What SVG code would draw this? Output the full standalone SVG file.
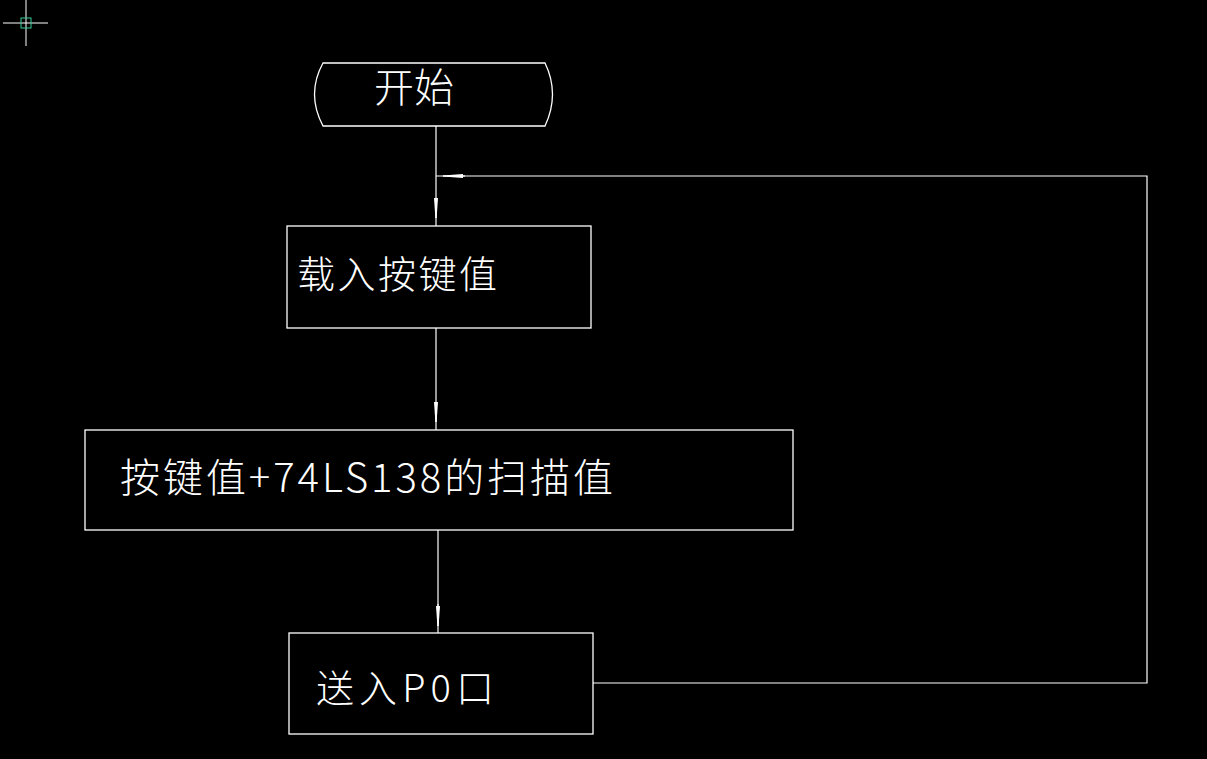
<svg xmlns="http://www.w3.org/2000/svg" width="1207" height="759" viewBox="0 0 1207 759">
<style>
.n{fill:none;stroke:#fff;stroke-width:1.3}
.t{fill:#fff;font-family:"Noto Sans CJK SC","Liberation Sans",sans-serif;font-weight:300}
.c{fill:none;stroke:#fff;stroke-width:1.2}
</style>
<defs>
<marker id="a" viewBox="0 0 20 6" refX="20" refY="3" markerWidth="20" markerHeight="6" markerUnits="userSpaceOnUse" orient="auto"><path d="M0,1 L20,2.4 L20,3.6 L0,5 Z" fill="#fff"/></marker>
</defs>
<rect width="1207" height="759" fill="#000"/>
<g id="cursor"><line x1="3" y1="23" x2="48" y2="23" stroke="#fff"/><line x1="26" y1="0" x2="26" y2="46" stroke="#fff"/><rect x="21" y="18" width="10" height="10" fill="none" stroke="#3c9"/></g>
<g id="connectors">
<line class="c" x1="436" y1="126" x2="436" y2="226"/>
<line class="c" x1="436" y1="198" x2="436" y2="218" marker-end="url(#a)"/>
<line class="c" x1="436" y1="328" x2="436" y2="430"/>
<line class="c" x1="436" y1="402" x2="436" y2="422" marker-end="url(#a)"/>
<line class="c" x1="438" y1="530" x2="438" y2="633"/>
<line class="c" x1="438" y1="604" x2="438" y2="626" marker-end="url(#a)"/>
<polyline class="c" points="593,683 1147,683 1147,176 436,176"/>
<line class="c" x1="465" y1="176" x2="443" y2="176" marker-end="url(#a)"/>
</g>
<g id="start">
<path class="n" stroke-width="2" d="M323,63 H545 Q560,94 545,126 H323 Q306,94 323,63 Z"/>
<text class="t" x="374" y="102" font-size="40" textLength="80" lengthAdjust="spacingAndGlyphs">开始</text>
</g>
<g id="load"><rect class="n" x="287" y="226" width="304" height="102"/>
<text class="t" x="297" y="288" font-size="38" textLength="200" lengthAdjust="spacing">载入按键值</text></g>
<g id="calc"><rect class="n" x="85" y="430" width="708" height="100"/>
<text class="t" x="120" y="492" font-size="40" textLength="493" lengthAdjust="spacing">按键值+74LS138的扫描值</text></g>
<g id="send"><rect class="n" x="289" y="633" width="304" height="101"/>
<text class="t" x="316" y="702" font-size="38" textLength="178" lengthAdjust="spacing">送入P0口</text></g>
</svg>
